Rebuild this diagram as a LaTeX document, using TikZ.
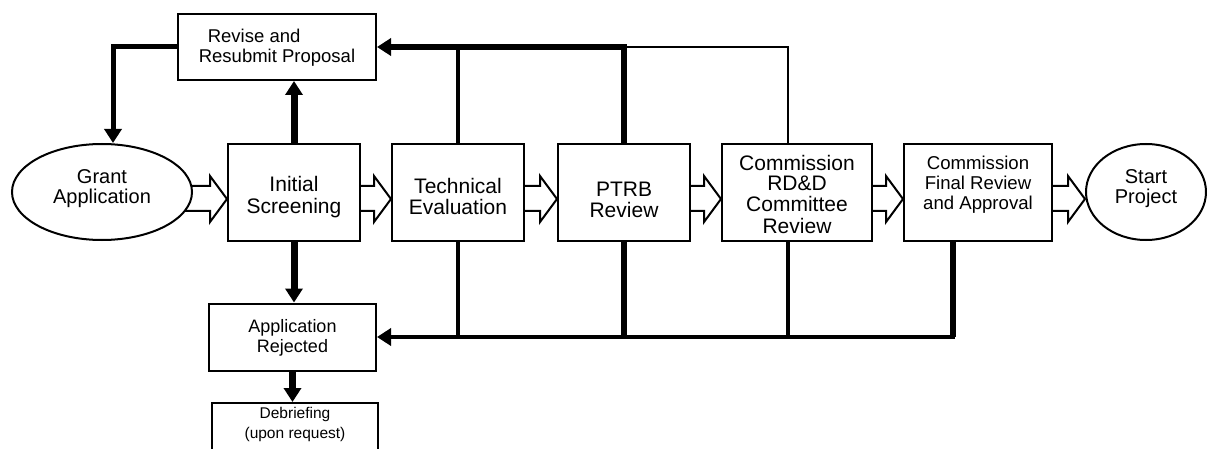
\documentclass[tikz,border=0pt]{standalone}
\usepackage{fontspec}
\setmainfont{Liberation Sans}
\usetikzlibrary{arrows.meta,calc,backgrounds,shapes.geometric}
\newcommand\lift[3][c]{\raisebox{#2}[\height][\depth]{\begin{tabular}{@{}#1@{}}#3\end{tabular}}}
\begin{document}
\begin{tikzpicture}[x=1pt,y=-1pt,
  box/.style={draw,line width=2pt,fill=white,inner sep=0pt,font=\fontsize{21}{21}\selectfont},
  oval/.style={box,ellipse},
  barrow/.style={draw,line width=2pt,fill=white,line join=miter},
  tip/.style={-{Triangle[length=14pt,width=17pt]}},
  ]
\useasboundingbox (0,0) rectangle (1207,449);
\clip (0,0) rectangle (1207,449);

% nodes
\node[box,minimum width=198,minimum height=66,font=\fontsize{18.5}{20}\selectfont] (rev) at (277,47)
  {\lift[l]{-2pt}{\hspace*{9pt}Revise and\\Resubmit Proposal}};
\node[oval,minimum width=180,minimum height=96,font=\fontsize{20}{19.5}\selectfont] (grant) at (102,192)
  {\lift{2.5pt}{Grant\\Application}};
\node[box,minimum width=132,minimum height=97] (init) at (294,192.5)
  {\lift{-5.5pt}{Initial\\Screening}};
\node[box,minimum width=132,minimum height=97] (tech) at (458,192.5)
  {\lift{-7pt}{Technical\\Evaluation}};
\node[box,minimum width=132,minimum height=97,font=\fontsize{21}{20}\selectfont] (ptrb) at (624,192.5)
  {\lift{-10pt}{PTRB\\Review}};
\node[box,minimum width=150,minimum height=97,font=\fontsize{21}{20.3}\selectfont] (comm) at (797,192.5)
  {\lift{-4.6pt}{Commission\\RD\&D\\Committee\\Review}};
\node[box,minimum width=148,minimum height=97,font=\fontsize{18.6}{20}\selectfont] (final) at (978,192.5)
  {\lift{6.5pt}{Commission\\Final Review\\and Approval}};
\node[oval,minimum width=120,minimum height=96,font=\fontsize{20}{19.5}\selectfont] (start) at (1146,192)
  {\lift{2.5pt}{Start\\Project}};
\node[box,minimum width=167,minimum height=67,font=\fontsize{18}{20}\selectfont] (rej) at (292.5,337)
  {\lift{-1.2pt}{Application\\Rejected}};
\node[box,minimum width=166,minimum height=70,anchor=north,font=\fontsize{15.5}{20}\selectfont] (deb) at (295,402)
  {\lift{13.2pt}{Debriefing\\(upon request)}};

% hollow block arrows
\newcommand\blockarr[2]{%
  \draw[barrow] (#1.center |- 0,186) -- ($(#2.west |- 0,186)+(-17,0)$) -- ++(0,-10)
    -- (#2.west |- 0,199) -- ($(#2.west |- 0,222)+(-17,0)$) -- ++(0,-11) -- (#1.center |- 0,211);}
\begin{scope}[on background layer]
  \blockarr{grant}{init}
  \blockarr{init}{tech}
  \blockarr{tech}{ptrb}
  \blockarr{ptrb}{comm}
  \blockarr{comm}{final}
  \blockarr{final}{start}
\end{scope}

% junction points
\coordinate (gtop) at ($(grant.north)+(11,0)$);
\coordinate (ctop) at ($(comm.north)+(-9,0)$);
\coordinate (cbot) at ($(comm.south)+(-9,0)$);
\coordinate (fbot) at ($(final.south)+(-25,0)$);

% feedback to revise
\draw[line width=5pt,tip] (rev.west) -| (gtop);
\draw[line width=7pt,tip] (init.north) -- (init.north |- rev.south);
\draw[line width=2pt] (ctop) |- (ptrb.north |- rev.east);
\draw[line width=4pt] (tech.north) -- (tech.north |- rev.east);
\draw[line width=6pt,tip] (ptrb.north) |- (rev.east);

% rejection paths
\draw[line width=7pt,tip] (init.south) -- (init.south |- rej.north);
\draw[line width=7pt,tip] (rej.south) -- (rej.south |- deb.north);
\draw[line width=4.5pt,tip] (fbot) |- (rej.east);
\draw[line width=6.5pt] (fbot) -- (fbot |- rej.east);
\draw[line width=4pt] (tech.south) -- (tech.south |- rej.east);
\draw[line width=6.5pt] (ptrb.south) -- (ptrb.south |- rej.east);
\draw[line width=4pt] (cbot) -- (cbot |- rej.east);
\end{tikzpicture}
\end{document}
